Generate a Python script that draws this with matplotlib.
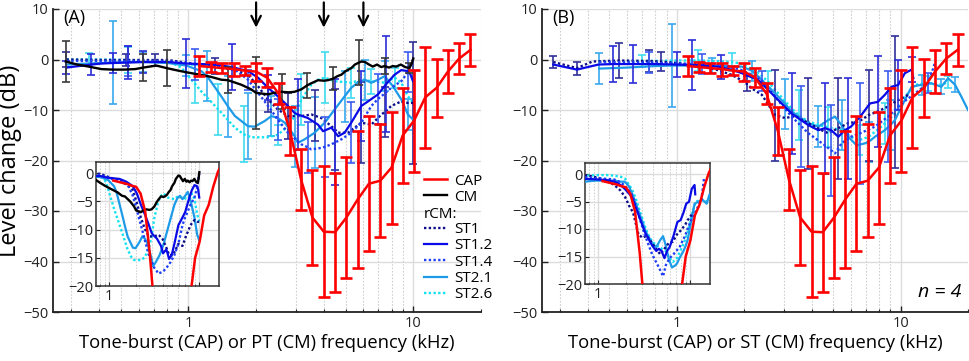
import numpy as np
import matplotlib
matplotlib.use('Agg')
import matplotlib.pyplot as plt
from matplotlib.ticker import FixedLocator, NullFormatter, FixedFormatter
from matplotlib.lines import Line2D

plt.rcParams['font.family'] = ['Open Sans', 'DejaVu Sans']
nan = np.nan

# ---------------- data ----------------
cap_f = [1.12, 1.26, 1.41, 1.59, 1.78, 2.0, 2.24, 2.52, 2.83, 3.17, 3.56, 4.0, 4.49, 5.04, 5.66,
         6.35, 7.13, 8.0, 8.98, 10.08, 11.3, 12.7, 14.25, 16.0, 17.96]
cap_v = [-1.3, -1.5, -1.7, -1.9, -2.2, -2.4, -3.6, -6.8, -14.2, -23.8, -31.3, -34.1, -34.2, -31.3, -27.7,
         -24.6, -24.0, -21.4, -15.0, -12.1, -7.5, -5.6, -2.4, 0.2, 1.9]
cap_e = [2.0, 1.0, 1.0, 1.3, 0.9, 1.8, 1.9, 2.1, 4.8, 6.1, 9.4, 13.0, 11.8, 12.0, 13.5,
         13.4, 11.2, 11.1, 9.4, 10.1, 10.0, 5.7, 4.3, 3.0, 3.1]

cm_f = [0.285, 0.32, 0.36, 0.41, 0.46, 0.52, 0.58, 0.63, 0.72, 0.80, 0.9, 1.0, 1.12, 1.25, 1.4, 1.5, 1.72,
        1.9, 2.0, 2.26, 2.4, 2.6, 2.8, 2.96, 3.18, 3.38, 3.52, 3.77, 4.0, 4.17, 4.4, 4.6, 4.79, 5.0, 5.3,
        5.5, 5.74, 5.87, 6.1, 6.3, 6.6, 6.9, 7.2, 7.45, 7.8, 8.1, 8.4, 8.8, 9.2, 9.6, 9.8, 10.0]
cm_v = [-0.4, -1.0, -1.4, -1.9, -2.0, -2.0, -1.9, -1.6, -1.2, -1.7, -2.2, -2.6, -3.0, -3.4, -4.0, -4.1, -5.0,
        -5.9, -6.6, -6.9, -6.6, -6.4, -6.5, -6.4, -5.9, -5.1, -4.7, -4.1, -4.2, -4.1, -3.8, -3.3, -3.0, -2.3, -1.7,
        -1.0, -0.6, -0.4, -0.5, -0.9, -1.4, -1.0, -1.5, -1.3, -1.6, -1.3, -1.4, -1.0, -1.5, -1.7, -1.0, 0.2]
cm_e = [4.0, nan, nan, nan, nan, nan, nan, 2.7, nan, 3.6, nan, nan, nan, nan, nan, 2.6, nan,
        nan, 7.1, nan, nan, 3.5, nan, nan, nan, 2.5, nan, nan, nan, nan, 2.3, nan, nan, nan, nan,
        nan, 4.4, nan, nan, nan, nan, nan, nan, 1.5, nan, nan, nan, nan, nan, 1.0, nan, nan]

# Panel A rCM series
a_st1_f = [0.287, 0.41, 0.53, 0.71, 0.81, 1.0, 1.31, 1.61, 1.84, 2.04, 2.26, 2.5, 2.77, 3.18, 3.52, 3.64, 3.9,
           4.32, 4.47, 4.63, 5.12, 5.49, 5.87, 6.51, 7.21, 7.46, 7.98, 8.84, 9.47, 9.97]
a_st1_v = [0.0, -0.1, -0.1, -0.1, -0.1, -0.7, -1.3, -2.1, -3.0, -5.3, -7.9, -9.9, -11.2, -11.2, -10.9, -11.1, -11.6,
           -13.2, -13.8, -14.5, -14.5, -13.5, -12.5, -12.9, -10.9, -10.4, -9.2, -8.3, -8.6, -8.6]
a_st1_e = [1.5, nan, 1.2, 1.2, nan, nan, 1.5, nan, nan, nan, 2.5, nan, 4.5, nan, nan, 5.0, nan,
           nan, 8.0, nan, nan, nan, 8.0, nan, nan, 5.0, nan, nan, nan, 12.0]

a_st12_f = [0.287, 0.37, 0.41, 0.46, 0.54, 0.63, 0.81, 0.98, 1.31, 1.56, 1.84, 2.04, 2.26, 2.5, 2.77, 2.97, 3.07,
            3.4, 3.77, 3.97, 4.32, 4.47, 4.63, 4.95, 5.3, 5.87, 6.29, 6.97, 7.6, 8.26, 8.84, 9.47, 9.7, 9.97]
a_st12_v = [-1.6, -1.0, -0.8, -0.7, -0.6, -0.5, -0.5, -0.8, -1.0, -1.5, -2.3, -3.6, -5.6, -7.3, -9.2, -10.6, -10.9,
            -11.6, -12.9, -14.2, -13.5, -14.3, -15.2, -14.5, -12.5, -9.2, -8.3, -6.9, -4.8, -3.0, -2.1, -2.3, -2.9, -4.3]
a_st12_e = [1.3, 2.0, nan, 2.0, 3.2, 2.2, nan, 4.8, nan, 4.5, nan, nan, 2.5, nan, nan, nan, 7.0,
            nan, nan, nan, nan, 10.5, nan, nan, nan, 7.0, nan, nan, 9.5, nan, nan, nan, nan, nan]

a_st14_f = [0.287, 0.54, 0.81, 1.0, 1.07, 1.31, 1.61, 1.84, 2.04, 2.26, 2.5, 2.77, 3.18, 3.4, 3.52, 3.9, 4.04,
            4.32, 4.79, 5.3, 5.87, 6.51, 6.97, 7.21, 7.98, 8.84, 9.47, 9.97]
a_st14_v = [-0.3, -0.3, -0.3, -0.8, -1.0, -1.3, -2.0, -4.0, -6.6, -9.2, -11.9, -14.5, -16.8, -17.4, -17.8, -17.5, -17.3,
            -16.8, -15.8, -14.5, -12.5, -9.2, -7.8, -7.3, -5.6, -4.3, -2.5, 0.0]
a_st14_e = [nan, 3.0, nan, nan, 3.0, nan, nan, 2.0, nan, nan, 4.0, nan, nan, 5.0, nan, nan, 6.0,
            nan, nan, 6.0, nan, nan, 5.0, nan, nan, nan, 4.0, nan]

a_st21_f = [0.287, 0.41, 0.46, 0.577, 0.63, 0.812, 0.98, 1.14, 1.21, 1.27, 1.40, 1.5, 1.61, 1.84, 1.97, 2.18, 2.34,
            2.5, 2.68, 2.97, 3.07, 3.29, 3.64, 4.04, 4.47, 4.95, 5.3, 5.68, 6.08, 6.51, 6.97, 7.46, 8.12, 8.84,
            9.47, 9.97]
a_st21_v = [-1.0, -0.7, -0.6, -0.5, -0.5, -0.7, -1.2, -2.3, -3.3, -4.6, -7.3, -9.3, -11.2, -13.2, -13.3, -12.2, -11.2,
            -11.6, -12.5, -15.2, -16.5, -15.8, -14.5, -12.5, -9.9, -7.3, -5.6, -4.5, -4.0, -4.6, -4.0, -3.3, -5.3, -7.9,
            -10.9, -11.9]
a_st21_e = [nan, nan, 8.2, nan, 2.0, nan, 2.0, nan, 5.0, nan, nan, 6.0, nan, 6.5, nan, nan, 4.0,
            nan, nan, 6.0, nan, nan, 7.0, nan, nan, 5.0, nan, nan, 4.0, nan, nan, 3.0, nan, nan,
            3.0, nan]

a_st26_f = [0.287, 0.36, 0.41, 0.54, 0.577, 0.812, 0.931, 1.03, 1.07, 1.14, 1.36, 1.61, 1.76, 1.9, 2.26, 2.5, 2.77,
            2.97, 3.18, 3.52, 3.77, 4.04, 4.47, 5.3, 5.87, 6.51, 7.46, 8.26, 8.84, 9.47, 9.97]
a_st26_v = [0.0, 0.0, 0.0, -0.1, -0.2, -0.3, -1.6, -4.0, -4.8, -6.3, -9.9, -13.5, -14.8, -15.4, -15.4, -14.9, -13.2,
            -11.2, -7.9, -5.0, -4.0, -3.6, -4.3, -4.6, -4.0, -4.3, -4.6, -3.6, -4.6, -7.3, -8.5]
a_st26_e = [nan, 1.3, nan, 2.5, nan, nan, nan, nan, 3.8, nan, 5.0, nan, 5.5, nan, nan, 2.0, nan,
            nan, 5.0, nan, nan, 5.0, nan, 3.0, nan, 2.5, nan, 2.0, nan, nan, nan]

# Panel B rCM series
b_st1_f = [0.281, 0.358, 0.42, 0.55, 0.75, 0.85, 1.0, 1.25, 1.5, 1.75, 1.95, 2.05, 2.16, 2.4, 2.75, 3.05, 3.38,
           3.87, 4.44, 4.75, 5.27, 5.84, 6.5, 7.2, 7.9, 8.8, 9.43, 10.1, 10.8]
b_st1_v = [-0.5, -1.7, -0.4, -0.2, -0.3, -0.4, -0.7, -1.2, -2.0, -3.0, -4.1, -4.8, -5.7, -7.0, -11.0, -11.6, -11.2,
           -12.6, -14.0, -14.6, -13.6, -12.6, -12.3, -11.0, -10.3, -9.3, -8.4, -7.7, -7.0]
b_st1_e = [1.2, 1.3, nan, 3.4, 2.2, 1.8, nan, nan, nan, nan, nan, 1.5, nan, nan, 9.0, nan, nan,
           9.0, nan, nan, 10.0, nan, nan, 9.0, nan, nan, 13.0, nan, nan]

b_st12_f = [0.281, 0.358, 0.447, 0.52, 0.64, 0.8, 1.0, 1.17, 1.25, 1.5, 1.57, 1.75, 1.95, 2.32, 2.75, 3.26, 3.87,
            4.29, 4.59, 4.9, 5.27, 5.63, 5.84, 6.0, 6.6, 7.3, 7.9, 8.5, 9.1, 9.75, 10.45, 11.2, 11.4]
b_st12_v = [-1.0, -2.0, -1.0, -0.9, -0.9, -0.9, -1.0, -1.1, -1.1, -1.4, -1.5, -2.0, -2.7, -4.1, -7.4, -10.7, -13.0,
            -14.0, -13.6, -14.0, -15.3, -14.0, -13.6, -13.3, -11.3, -8.7, -8.4, -7.0, -5.4, -5.05, -2.7, -2.0, -3.7]
b_st12_e = [nan, nan, nan, 3.5, 3.7, nan, 2.5, 5.0, nan, nan, 2.4, nan, nan, nan, nan, 8.0, nan,
            nan, 9.0, nan, nan, nan, 10.0, nan, nan, nan, 9.0, nan, nan, 5.0, nan, 2.5, nan]

b_st14_f = [0.45, 0.75, 1.0, 1.3, 1.5, 1.75, 1.95, 2.32, 2.4, 2.75, 3.26, 3.6, 3.87, 4.59, 4.9, 5.09, 5.45,
            6.0, 6.6, 7.68, 8.8, 10.1, 11.6, 13.3, 14.2]
b_st14_v = [-0.5, -0.6, -0.8, -0.9, -1.0, -1.5, -2.1, -3.7, -4.2, -7.4, -11.3, -13.2, -14.6, -17.0, -18.0, -18.6, -16.6,
            -15.3, -14.6, -13.3, -11.3, -8.7, -6.7, -4.7, -0.8]
b_st14_e = [nan, 2.0, nan, 2.0, nan, nan, nan, nan, 2.0, nan, nan, 8.0, nan, nan, 9.0, nan, nan,
            nan, 10.0, nan, 9.0, nan, nan, 2.0, nan]

b_st21_f = [0.45, 0.6, 0.8, 0.95, 1.0, 1.25, 1.43, 1.5, 1.76, 1.95, 2.16, 2.32, 2.75, 3.05, 3.26, 3.87, 4.29,
            4.75, 5.09, 5.45, 5.84, 6.36, 6.93, 7.2, 7.68, 8.5, 9.0, 9.43, 10.45, 11.2, 12.4, 13.7, 15.2, 16.3,
            17.5, 18.7, 20.0]
b_st21_v = [-1.8, -1.6, -1.3, -1.2, -1.2, -1.2, -1.2, -1.2, -1.4, -1.4, -2.2, -3.4, -6.7, -8.8, -10.3, -12.6, -13.3,
            -12.0, -11.3, -13.0, -15.3, -17.0, -16.6, -16.3, -15.3, -14.0, -13.0, -12.0, -8.0, -5.4, -5.0, -4.7, -5.4,
            -3.7, -5.0, -7.4, -10.0]
b_st21_e = [3.0, nan, nan, 8.2, nan, nan, 1.5, nan, nan, nan, 2.0, nan, nan, 5.0, nan, nan, 4.0,
            nan, nan, 5.0, nan, nan, nan, 4.0, nan, nan, 5.0, nan, nan, nan, 2.0, nan, 1.5, nan,
            1.5, nan, nan]

b_st26_f = [0.6, 0.7, 1.0, 1.25, 1.5, 1.76, 1.95, 2.32, 2.55, 2.75, 3.26, 3.5, 3.87, 4.59, 4.75, 5.45, 6.0,
            6.5, 7.2, 8.2, 8.5, 9.43, 10.45, 11.6, 13.3, 15.2, 16.3]
b_st26_v = [-0.3, -0.3, -0.2, -0.2, -0.3, -0.5, -0.8, -2.7, -4.3, -6.0, -9.7, -11.0, -12.3, -13.3, -13.4, -14.0, -15.3,
            -16.0, -15.3, -13.3, -12.7, -10.7, -7.4, -5.0, -4.7, -5.0, -4.5]
b_st26_e = [nan, 1.2, nan, 2.0, nan, 1.8, nan, nan, 2.0, nan, nan, 5.0, nan, nan, 4.0, nan, nan,
            3.0, nan, nan, 4.0, nan, nan, nan, 1.5, nan, 1.2]

arrow_f = [2.0, 4.0, 6.0]
st_labels = ['ST1', 'ST1.2', 'ST1.4', 'ST2.1', 'ST2.6']

# ---------------- styles ----------------
DOT = (0, (1, 1))
st_styles = [
    dict(color='#0c0c8a', ecolor='#30309a', ls=DOT, lw=1.7),
    dict(color='#0a0ae6', ecolor='#2d2dd8', ls='-', lw=1.6),
    dict(color='#1f3ff5', ecolor='#3d5cf0', ls=DOT, lw=1.7),
    dict(color='#1e9be8', ecolor='#3aa8ee', ls='-', lw=1.6),
    dict(color='#12e2f0', ecolor='#3fdcef', ls=DOT, lw=1.7),
]
CAP_C = '#ff0000'

XMIN, XMAX = 0.25, 20
FS_TICK = 10.5


def style_log_x(ax, labels=True):
    ax.set_xscale('log')
    ax.xaxis.set_major_locator(FixedLocator([1, 10]))
    ax.xaxis.set_major_formatter(FixedFormatter(['1', '10']) if labels else NullFormatter())
    minors = [m * d for d in (0.1, 1, 10) for m in range(2, 10)]
    ax.xaxis.set_minor_locator(FixedLocator(minors))
    ax.xaxis.set_minor_formatter(NullFormatter())


def setup_main(ax):
    style_log_x(ax)
    ax.set_xlim(XMIN, XMAX)
    ax.set_ylim(-50, 10)
    ax.set_yticks(range(-50, 11, 10))
    ax.grid(True, which='major', color='#dcdcdc', lw=1.0, ls='-')
    ax.grid(True, which='minor', axis='x', color='#cfcfcf', lw=0.8, ls=(0, (1.5, 1.5)))
    ax.set_axisbelow(True)
    for s in ('top', 'right'):
        ax.spines[s].set_visible(False)
    for s in ('left', 'bottom'):
        ax.spines[s].set_color('#222222')
        ax.spines[s].set_linewidth(1.3)
    ax.tick_params(which='both', direction='in', labelsize=FS_TICK, colors='#222222')
    ax.tick_params(which='major', length=4, width=1.0, pad=3)
    ax.tick_params(which='minor', length=2.5, width=0.8)


def plot_series(ax, f, v, e, st, z, bars=True):
    f = np.asarray(f); v = np.asarray(v); e = np.asarray(e)
    ax.plot(f, v, color=st['color'], ls=st['ls'], lw=st['lw'], zorder=z)
    if bars:
        m = ~np.isnan(e)
        ax.errorbar(f[m], v[m], yerr=e[m], fmt='none', ecolor=st['ecolor'], elinewidth=1.2,
                    capsize=3, capthick=1.2, zorder=z - 0.5)


def plot_cap(ax, bars=True):
    if bars:
        ax.errorbar(cap_f, cap_v, yerr=cap_e, color=CAP_C, lw=1.8, elinewidth=1.9, capsize=4,
                    capthick=1.9, zorder=10)
    else:
        ax.plot(cap_f, cap_v, color=CAP_C, lw=1.8, zorder=10)


def plot_cm(ax, bars=True):
    ax.plot(cm_f, cm_v, color='black', lw=1.7, zorder=8)
    if bars:
        f = np.asarray(cm_f); v = np.asarray(cm_v); e = np.asarray(cm_e)
        m = ~np.isnan(e)
        ax.errorbar(f[m], v[m], yerr=e[m], fmt='none', ecolor='#3a3a3a', elinewidth=1.2,
                    capsize=3, capthick=1.2, zorder=7.5)


def setup_inset(ax):
    style_log_x(ax, labels=False)
    ax.xaxis.set_major_formatter(FixedFormatter(['1', '']))
    ax.set_xlim(0.72, 16.5)
    ax.set_ylim(-20, 2)
    ax.set_yticks([0, -5, -10, -15, -20])
    ax.grid(True, which='major', color='#dcdcdc', lw=1.0)
    ax.grid(True, which='minor', axis='x', color='#cfcfcf', lw=0.7, ls=(0, (1.5, 1.5)))
    ax.set_axisbelow(True)
    for s in ax.spines.values():
        s.set_color('#333333')
        s.set_linewidth(1.1)
    ax.tick_params(which='both', direction='in', labelsize=10.5, colors='#222222')
    ax.tick_params(which='major', length=3, pad=2)
    ax.tick_params(which='minor', length=1.5)
    ax.set_facecolor('white')


fig = plt.figure(figsize=(9.7, 3.61), dpi=100)
W, H = 970.0, 361.0
axA = fig.add_axes([53 / W, 1 - 312 / H, 428 / W, 303 / H])
axB = fig.add_axes([542 / W, 1 - 312 / H, 426 / W, 303 / H])

a_series = [(a_st1_f, a_st1_v, a_st1_e), (a_st12_f, a_st12_v, a_st12_e), (a_st14_f, a_st14_v, a_st14_e),
            (a_st21_f, a_st21_v, a_st21_e), (a_st26_f, a_st26_v, a_st26_e)]
b_series = [(b_st1_f, b_st1_v, b_st1_e), (b_st12_f, b_st12_v, b_st12_e), (b_st14_f, b_st14_v, b_st14_e),
            (b_st21_f, b_st21_v, b_st21_e), (b_st26_f, b_st26_v, b_st26_e)]
zs = [5, 6, 5.5, 4.5, 4]

# ----- Panel A -----
setup_main(axA)
for (f, v, e), st, z in zip(a_series, st_styles, zs):
    plot_series(axA, f, v, e, st, z)
plot_cm(axA)
plot_cap(axA)
axA.set_xlabel('Tone-burst (CAP) or PT (CM) frequency (kHz)', fontsize=13.2, labelpad=2)
axA.set_ylabel('Level change (dB)', fontsize=17, labelpad=1)
axA.text(0.025, 0.97, '(A)', transform=axA.transAxes, ha='left', va='center', fontsize=13)
for fx in arrow_f:
    axA.annotate('', xy=(fx, 6.3), xytext=(fx, 11.3), xycoords='data', textcoords='data',
                 arrowprops=dict(arrowstyle='->', lw=1.6, color='black', mutation_scale=17,
                                 shrinkA=0, shrinkB=0), annotation_clip=False)

handles = [Line2D([], [], color=CAP_C, lw=1.8), Line2D([], [], color='black', lw=1.7),
           Line2D([], [], color='none')]
labels = ['CAP', 'CM', '']
for st, lab in zip(st_styles, st_labels):
    handles.append(Line2D([], [], color=st['color'], ls=st['ls'], lw=st['lw']))
    labels.append(lab)
leg = axA.legend(handles, labels, loc='upper left', bbox_to_anchor=(0.866, 0.457), frameon=False,
                 fontsize=11, handlelength=1.55, handletextpad=0.45, labelspacing=0.08,
                 borderaxespad=0, borderpad=0)
leg.set_zorder(20)
axA.text(0.866, 0.323, 'rCM:', transform=axA.transAxes, ha='left', va='center', fontsize=11, zorder=20)

# ----- Panel B -----
setup_main(axB)
for (f, v, e), st, z in zip(b_series, st_styles, zs):
    plot_series(axB, f, v, e, st, z)
plot_cap(axB)
axB.set_xlabel('Tone-burst (CAP) or ST (CM) frequency (kHz)', fontsize=13.2, labelpad=2)
axB.text(0.023, 0.97, '(B)', transform=axB.transAxes, ha='left', va='center', fontsize=13)
axB.text(0.985, 0.035, 'n = 4', transform=axB.transAxes, ha='right', va='bottom', fontsize=14,
         style='italic')

# ----- Insets -----
insA = fig.add_axes([96 / W, 1 - 286 / H, 123 / W, 124 / H])
setup_inset(insA)
for (f, v, e), st, z in zip(a_series, st_styles, zs):
    plot_series(insA, f, v, e, st, z, bars=False)
plot_cm(insA, bars=False)
plot_cap(insA, bars=False)

insB = fig.add_axes([585 / W, 1 - 284 / H, 125 / W, 121 / H])
setup_inset(insB)
for (f, v, e), st, z in zip(b_series, st_styles, zs):
    plot_series(insB, f, v, e, st, z, bars=False)
plot_cap(insB, bars=False)

fig.savefig('out.png', dpi=100)
